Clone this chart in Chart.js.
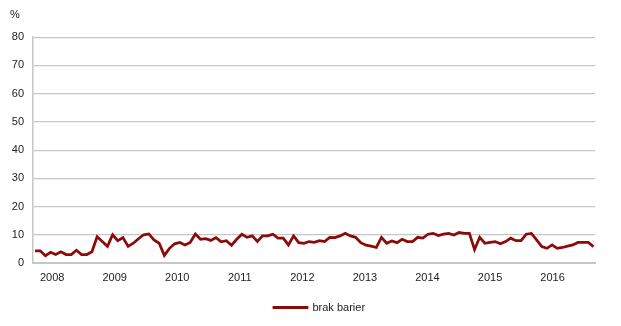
<!DOCTYPE html>
<html>
<head>
<meta charset="utf-8">
<script src="https://cdn.jsdelivr.net/npm/chart.js@4/dist/chart.umd.min.js"></script>
<style>
  html, body { margin: 0; padding: 0; background: #fff; }
  #wrap { width: 621px; height: 326px; }
</style>
</head>
<body>
<div id="wrap"><canvas id="chart" width="621" height="326"></canvas></div>
<script>
  var YEARS = ['2008', '2009', '2010', '2011', '2012', '2013', '2014', '2015', '2016'];
  var Y_TICKS = [0, 10, 20, 30, 40, 50, 60, 70, 80];
  var SERIES_LABEL = 'brak barier';
  // monthly values, %
  var VALUES = [
    4.3, 4.3, 2.6, 3.8, 3.0, 4.0, 3.0, 3.0, 4.5, 3.0, 3.0, 4.0,
    9.3, 7.6, 5.9, 10.0, 7.9, 9.0, 5.9, 7.0, 8.6, 10.0, 10.3, 8.2,
    7.0, 2.7, 5.2, 6.8, 7.3, 6.4, 7.3, 10.3, 8.4, 8.6, 8.0, 9.0,
    7.5, 7.9, 6.3, 8.4, 10.2, 9.1, 9.6, 7.6, 9.6, 9.6, 10.2, 8.8,
    8.8, 6.4, 9.6, 7.2, 7.0, 7.6, 7.3, 7.9, 7.6, 9.1, 9.0, 9.6,
    10.5, 9.6, 9.1, 7.2, 6.3, 6.0, 5.5, 9.1, 7.0, 7.8, 7.2, 8.4,
    7.6, 7.6, 9.1, 8.8, 10.2, 10.5, 9.7, 10.2, 10.5, 9.9, 10.8, 10.5,
    10.5, 4.8, 9.1, 7.0, 7.3, 7.6, 6.8, 7.6, 8.8, 7.9, 7.9, 10.2,
    10.5, 8.2, 5.8, 5.2, 6.4, 5.2, 5.5, 6.0, 6.4, 7.3, 7.3, 7.3,
    5.8
  ];

  var FONT = "'Liberation Sans', Arial, sans-serif";
  var LINE_COLOR = '#8b0a0a';
  var GRID_COLOR = '#c6c6c6';

  var points = VALUES.map(function (v, i) { return { x: i, y: v }; });
  var yearPos = YEARS.map(function (y, k) { return 3.3 + 12.1 * k; });

  // legend in the original sits a bit right of the canvas centre
  var legendShift = {
    id: 'legendShift',
    afterLayout: function (chart) {
      var l = chart.legend;
      if (!l) return;
      l.left += 17;
      l.right += 17;
      l.top += 1;
      l.bottom += 1;
    }
  };

  new Chart(document.getElementById('chart'), {
    type: 'line',
    data: {
      datasets: [{
        label: SERIES_LABEL,
        data: points,
        borderColor: LINE_COLOR,
        backgroundColor: LINE_COLOR,
        borderWidth: 2.75,
        pointRadius: 0,
        tension: 0,
        fill: false
      }]
    },
    options: {
      responsive: false,
      animation: false,
      layout: { padding: { top: 0, left: 10, right: 26, bottom: 4 } },
      plugins: {
        tooltip: { enabled: false },
        title: {
          display: true,
          text: '%',
          align: 'start',
          color: '#222',
          font: { family: FONT, size: 11, weight: 'normal' },
          padding: { top: 8, bottom: 16 }
        },
        legend: {
          display: true,
          position: 'bottom',
          labels: {
            color: '#222',
            font: { family: FONT, size: 11 },
            boxWidth: 33,
            boxHeight: 0.3,
            padding: 10
          }
        }
      },
      scales: {
        x: {
          type: 'linear',
          min: -0.4,
          max: 108.3,
          afterBuildTicks: function (scale) {
            scale.ticks = yearPos.map(function (p) { return { value: p }; });
          },
          afterFit: function (scale) { scale.height = 28; },
          ticks: {
            autoSkip: false,
            maxRotation: 0,
            padding: 8,
            color: '#222',
            font: { family: FONT, size: 11 },
            callback: function (v, idx) { return YEARS[idx]; }
          },
          grid: { display: false, drawTicks: false },
          border: { display: true, color: GRID_COLOR, width: 2 }
        },
        y: {
          min: 0,
          max: 80,
          afterBuildTicks: function (scale) {
            scale.ticks = Y_TICKS.map(function (v) { return { value: v }; });
          },
          afterFit: function (scale) { scale.width = 23; },
          ticks: {
            padding: 9,
            color: '#222',
            font: { family: FONT, size: 11 }
          },
          grid: { color: GRID_COLOR, lineWidth: 1.2, drawTicks: false },
          border: { display: true, color: GRID_COLOR, width: 1.5 }
        }
      }
    },
    plugins: [legendShift]
  });
</script>
</body>
</html>
